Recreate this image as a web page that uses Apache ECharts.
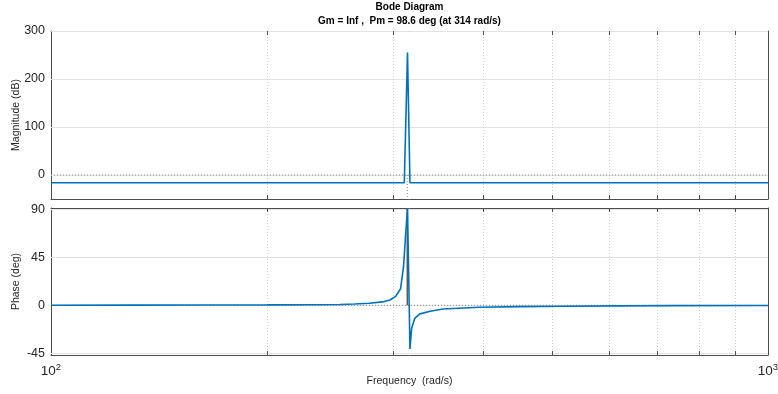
<!DOCTYPE html>
<html>
<head>
<meta charset="utf-8">
<script src="https://cdn.jsdelivr.net/npm/echarts@6/dist/echarts.min.js"></script>
<style>
  html, body { margin: 0; padding: 0; background: #fff; }
  #chart { width: 778px; height: 394px; }
</style>
</head>
<body>
<div id="chart"></div>
<script>
// Frequency response samples (rad/s)
const magFreq = [100, 150, 200, 250, 290, 305, 311, 312.4, 314.2, 316.7, 320, 340, 400, 500, 700, 1000];
const magDb   = [-16, -16, -16, -16, -16, -16, -16, -16, 255, -16, -16, -16, -16, -16, -16, -16];

const phaseFreq = [100, 130, 160, 200, 230, 253, 265, 278, 290, 297, 302.5, 307.3, 310.2, 312.4, 314.2,
                   316.7, 318.4, 321.8, 327, 338, 352, 396, 450, 520, 620, 750, 1000];
const phaseDeg  = [0.1, 0.15, 0.25, 0.4, 0.55, 0.8, 1.2, 2.0, 3.2, 5.0, 8.4, 15.6, 36, 67, 91,
                   -41, -21.6, -12, -8, -5.5, -3.5, -1.8, -1.2, -0.8, -0.5, -0.3, -0.2];

// Axis ticks and limits
const magTicks = [0, 100, 200, 300];
const phaseTicks = [-45, 0, 45, 90];
const minorFreqs = [200, 300, 400, 500, 600, 700, 800, 900];
const freqRange = [100, 1000];
const magRange = [-50, 300];
const phaseRange = [-46.6, 91.3];

// Stability margin marker
const pmFreq = 314;
const pmPhase = 91;
const titleText = 'Bode Diagram';
const subText = 'Gm = Inf ,  Pm = 98.6 deg (at 314 rad/s)';

const FONT = '"Liberation Sans", Arial, Helvetica, sans-serif';
const AXIS = '#4d4d4d';
const TXT = '#262626';
const BLUE = '#0072BD';

const chart = echarts.init(document.getElementById('chart'), null, { renderer: 'canvas' });

function xAxisDef(gridIndex, position, showLabels, name) {
  return {
    type: 'log', logBase: 10, gridIndex, position,
    min: freqRange[0], max: freqRange[1],
    axisLine: { show: true, onZero: false, lineStyle: { color: AXIS, width: 1 } },
    axisTick: { show: false },
    splitLine: { show: false },
    axisLabel: showLabels ? {
      show: true, margin: 7,
      showMinLabel: true, showMaxLabel: true,
      formatter: v => '{b|10}{s|' + Math.round(Math.log10(v)) + '}',
      rich: {
        b: { fontFamily: FONT, fontSize: 13.5, color: TXT, verticalAlign: 'bottom' },
        s: { fontFamily: FONT, fontSize: 9.5, color: TXT, verticalAlign: 'bottom', padding: [0, 0, 6, 0] }
      }
    } : { show: false },
    name: name || '',
    nameLocation: 'middle',
    nameGap: 21,
    nameMoveOverlap: false,
    nameTextStyle: { fontFamily: FONT, fontSize: 10.5, color: TXT }
  };
}

function yAxisDef(gridIndex, position, range, ticks, showLabels, name) {
  return {
    type: 'value', gridIndex, position,
    min: range[0], max: range[1],
    axisLine: { show: true, onZero: false, lineStyle: { color: AXIS, width: 1 } },
    axisTick: { show: true, inside: true, length: 7, customValues: ticks, lineStyle: { color: AXIS } },
    axisLabel: showLabels ? {
      show: true, margin: 6, customValues: ticks,
      fontFamily: FONT, fontSize: 12.5, color: TXT
    } : { show: false },
    splitLine: { show: false },
    name: name || '',
    nameLocation: 'middle',
    nameRotate: 90,
    nameGap: 29,
    nameMoveOverlap: false,
    nameTextStyle: { fontFamily: FONT, fontSize: 10.5, color: TXT }
  };
}

// Vertical dotted grid lines at the in-decade frequencies, with short inward ticks on both edges
function minorItem(params, api) {
  const cs = params.coordSys;
  const x = Math.round(api.coord([api.value(0), api.value(1)])[0]) + 0.5;
  const top = cs.y, bot = cs.y + cs.height;
  return {
    type: 'group', silent: true,
    children: [
      { type: 'line', shape: { x1: x, y1: top, x2: x, y2: bot },
        style: { stroke: '#d2d2d2', lineWidth: 1, lineDash: [1, 2] } },
      { type: 'line', shape: { x1: x, y1: bot, x2: x, y2: bot - 4 },
        style: { stroke: AXIS, lineWidth: 1 } },
      { type: 'line', shape: { x1: x, y1: top, x2: x, y2: top + 4 },
        style: { stroke: AXIS, lineWidth: 1 } }
    ]
  };
}

// Horizontal light grid lines at the labelled values
function hGridItem(params, api) {
  const cs = params.coordSys;
  const y = Math.round(api.coord([api.value(0), api.value(1)])[1]) + 0.5;
  return {
    type: 'line', silent: true,
    shape: { x1: cs.x, y1: y, x2: cs.x + cs.width, y2: y },
    style: { stroke: '#e3e3e3', lineWidth: 1 }
  };
}

function gridSeries(xi, yi, range, ticks) {
  return [
    { type: 'custom', xAxisIndex: xi, yAxisIndex: yi, z: 1, silent: true,
      renderItem: hGridItem, data: ticks.map(v => [freqRange[0], v]) },
    { type: 'custom', xAxisIndex: xi, yAxisIndex: yi, z: 1, silent: true,
      renderItem: minorItem, data: minorFreqs.map(f => [f, range[0]]) }
  ];
}

function segment(xi, yi, pts, style) {
  return {
    type: 'line', xAxisIndex: xi, yAxisIndex: yi, z: 2, silent: true,
    showSymbol: false, symbol: 'none', data: pts, lineStyle: style
  };
}

const dotted = { color: '#8a8a8a', width: 1, type: [1, 2] };

const option = {
  animation: false,
  backgroundColor: '#fff',
  title: {
    text: titleText, subtext: subText,
    left: 409.5, top: 1, padding: 0, textAlign: 'center', itemGap: 2,
    textStyle: { fontFamily: FONT, fontSize: 10, fontWeight: 'bold', color: '#000', lineHeight: 12 },
    subtextStyle: { fontFamily: FONT, fontSize: 10, fontWeight: 'bold', color: '#000', lineHeight: 12 }
  },
  grid: [
    { left: 51, right: 10, top: 31, height: 168, outerBoundsMode: 'none', containLabel: false },
    { left: 51, right: 10, top: 208, height: 147, outerBoundsMode: 'none', containLabel: false }
  ],
  xAxis: [
    xAxisDef(0, 'bottom', false),
    xAxisDef(1, 'bottom', true, 'Frequency  (rad/s)'),
    xAxisDef(0, 'top', false),
    xAxisDef(1, 'top', false)
  ],
  yAxis: [
    yAxisDef(0, 'left', magRange, magTicks, true, 'Magnitude (dB)'),
    yAxisDef(1, 'left', phaseRange, phaseTicks, true, 'Phase (deg)'),
    yAxisDef(0, 'right', magRange, magTicks, false),
    yAxisDef(1, 'right', phaseRange, phaseTicks, false)
  ],
  series: [
    ...gridSeries(0, 0, magRange, magTicks),
    ...gridSeries(1, 1, phaseRange, phaseTicks),
    segment(0, 0, [[freqRange[0], 0], [freqRange[1], 0]], dotted),
    segment(0, 0, [[pmFreq, 0], [pmFreq, magRange[0]]], dotted),
    segment(1, 1, [[freqRange[0], 0], [freqRange[1], 0]], dotted),
    segment(1, 1, [[pmFreq, 0], [pmFreq, pmPhase]], { color: '#5a5a5a', width: 1.5 }),
    {
      type: 'line', xAxisIndex: 0, yAxisIndex: 0, z: 3,
      showSymbol: false, symbol: 'none',
      data: magFreq.map((f, i) => [f, magDb[i]]),
      lineStyle: { color: BLUE, width: 1.6 }
    },
    {
      type: 'line', xAxisIndex: 1, yAxisIndex: 1, z: 3,
      showSymbol: false, symbol: 'none',
      data: phaseFreq.map((f, i) => [f, phaseDeg[i]]),
      lineStyle: { color: BLUE, width: 1.6 }
    }
  ]
};

chart.setOption(option);
</script>
</body>
</html>
